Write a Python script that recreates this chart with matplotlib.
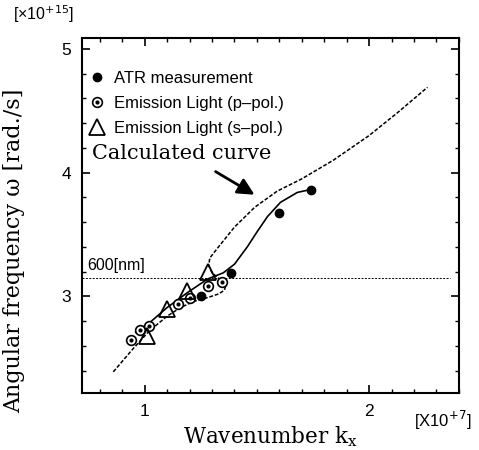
import matplotlib
matplotlib.use("Agg")
import matplotlib.pyplot as plt
from matplotlib.ticker import MultipleLocator

# ATR measurement (filled circles)
atr_k = [1.25, 1.386, 1.60, 1.74]
atr_w = [3.00, 3.19, 3.67, 3.86]

# Emission light, p-polarised (dotted circles)
p_k = [0.94, 0.98, 1.02, 1.15, 1.20, 1.28, 1.345]
p_w = [2.65, 2.73, 2.76, 2.94, 2.99, 3.08, 3.12]

# Emission light, s-polarised (open triangles)
s_k = [1.01, 1.10, 1.19, 1.28]
s_w = [2.68, 2.90, 3.04, 3.20]

# calculated dispersion curve (dashed, back-bending)
calc_k = [0.86, 0.94, 1.02, 1.10, 1.16, 1.22, 1.28, 1.33, 1.355, 1.36, 1.34,
          1.30, 1.285, 1.29, 1.32, 1.40, 1.49, 1.59, 1.70, 1.84, 2.00, 2.13, 2.26]
calc_w = [2.39, 2.56, 2.72, 2.84, 2.91, 2.96, 2.99, 3.02, 3.05, 3.08, 3.13,
          3.19, 3.25, 3.31, 3.38, 3.56, 3.72, 3.85, 3.95, 4.10, 4.30, 4.49, 4.69]

# fit through measured data (solid)
fit_k = [0.96, 1.03, 1.10, 1.19, 1.28, 1.35, 1.40, 1.457, 1.50, 1.547, 1.605, 1.68, 1.73]
fit_w = [2.71, 2.80, 2.91, 3.03, 3.14, 3.19, 3.26, 3.40, 3.52, 3.645, 3.76, 3.84, 3.86]

line_600 = 3.15  # 600 nm

fig = plt.figure(figsize=(4.79, 4.5), dpi=100)
ax = fig.add_axes([0.171, 0.127, 0.787, 0.789])

ax.plot(calc_k, calc_w, color="black", ls=(0, (2.5, 1.2)), lw=1.1)
ax.plot(fit_k, fit_w, color="black", ls="-", lw=1.2)
ax.plot([0.72, 2.36], [line_600, line_600], color="black", ls=(0, (2, 1.5)), lw=0.7)

h1, = ax.plot(atr_k, atr_w, ls="none", marker="o", ms=6, color="black",
              label="ATR measurement")
h2a, = ax.plot(p_k, p_w, ls="none", marker="o", ms=7, mfc="white", mec="black", mew=1.2)
h2b, = ax.plot(p_k, p_w, ls="none", marker="o", ms=2, color="black")
h3, = ax.plot(s_k, s_w, ls="none", marker="^", ms=11, mfc="none", mec="black", mew=1.3)

ax.legend([h1, (h2a, h2b), h3],
          ["ATR measurement", "Emission Light (p\u2013pol.)", "Emission Light (s\u2013pol.)"],
          loc="upper left", bbox_to_anchor=(-0.025, 0.95), frameon=False,
          prop={"family": "Liberation Sans", "size": 12},
          handletextpad=0.5, labelspacing=0.6, handlelength=1.1)

ax.text(0.765, 4.11, "Calculated curve", family="DejaVu Serif", fontsize=15)
ax.annotate("", xy=(1.50, 3.81), xytext=(1.305, 4.02),
            arrowprops=dict(arrowstyle="-|>,head_length=1.0,head_width=0.5",
                            color="black", lw=2.0))
ax.text(0.745, 3.21, "600[nm]", family="Liberation Sans", fontsize=11.5)

ax.set_xlim(0.72, 2.40)
ax.set_ylim(2.22, 5.09)
ax.xaxis.set_major_locator(MultipleLocator(1))
ax.xaxis.set_minor_locator(MultipleLocator(0.1))
ax.yaxis.set_major_locator(MultipleLocator(1))
ax.yaxis.set_minor_locator(MultipleLocator(0.2))
ax.tick_params(which="both", direction="in", top=True, right=True)
ax.tick_params(which="major", length=6, width=1.2, labelsize=12.5, pad=8)
ax.tick_params(which="minor", length=3, width=1.0)
for lab in ax.get_xticklabels() + ax.get_yticklabels():
    lab.set_family("Liberation Sans")
for sp in ax.spines.values():
    sp.set_linewidth(1.5)

ax.set_xlabel("Wavenumber k$_\\mathregular{x}$", family="DejaVu Serif", fontsize=15.5, labelpad=4)
ax.set_ylabel("Angular frequency \u03c9 [rad./s]", family="DejaVu Serif", fontsize=16)
ax.yaxis.set_label_coords(-0.15, 0.40)

fig.text(0.027, 0.955, "[\u00d710$^{+15}$]", family="Liberation Sans", fontsize=11.5)
fig.text(0.865, 0.052, "[X10$^{+7}$]", family="Liberation Sans", fontsize=12)

fig.savefig("out.png", dpi=100)
